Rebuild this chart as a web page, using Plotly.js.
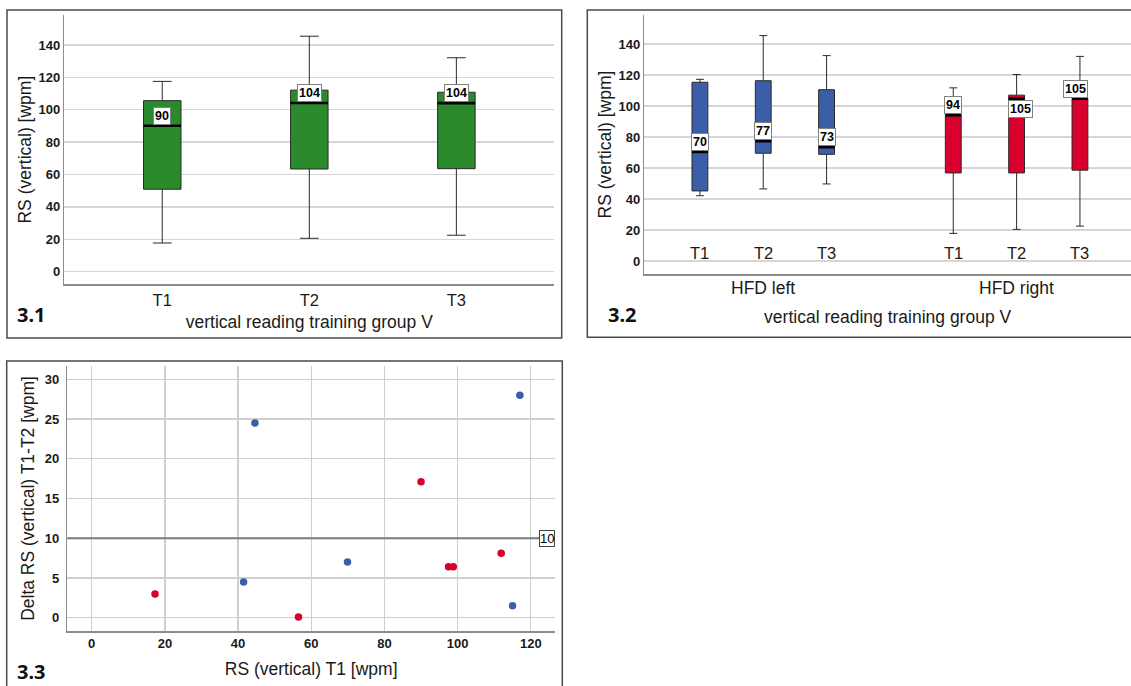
<!DOCTYPE html>
<html>
<head>
<meta charset="utf-8">
<script src="https://cdn.plot.ly/plotly-3.0.1.min.js"></script>
<style>
html, body { margin: 0; padding: 0; background: #ffffff; }
#chart { width: 1131px; height: 686px; }
</style>
</head>
<body>
<div id="chart"></div>
<script>
// ---------- DATA ----------
// Panel 3.1: vertical reading training group V (all participants)
const timeCats   = ['T1', 'T2', 'T3'];
const grpV_low   = [17.7, 20.6, 22.5];
const grpV_q1    = [50.9, 63.4, 63.6];
const grpV_med   = [90.1, 104.2, 104.1];
const grpV_q3    = [105.6, 112.1, 110.8];
const grpV_high  = [117.5, 145.4, 132.1];

// Panel 3.2: split by HFD side
const hfdGroups  = ['HFD left', 'HFD right'];
const left_low   = [42.1, 46.5, 49.7];
const left_q1    = [45.2, 69.5, 68.8];
const left_med   = [70.3, 77.3, 73.4];
const left_q3    = [115.3, 116.3, 110.5];
const left_high  = [117.2, 145.4, 132.5];
const right_low  = [17.8, 20.4, 22.5];
const right_q1   = [56.8, 56.8, 58.6];
const right_med  = [94.0, 104.6, 104.7];
const right_q3   = [94.3, 107.0, 104.9];
const right_high = [111.7, 120.3, 132.0];

// Panel 3.3: RS T1 vs delta T1-T2
const left_T1     = [41.5, 44.6, 69.9, 115.0, 117.0];
const left_delta  = [4.5, 24.5, 7.0, 1.5, 28.0];
const right_T1    = [17.3, 56.5, 90.0, 97.5, 98.8, 111.9];
const right_delta = [3.0, 0.1, 17.1, 6.4, 6.4, 8.1];
const deltaRef    = 10;

// ---------- STYLE ----------
const W = 1131, H = 686;
const GREEN = '#2b8a2b', BLUE = '#3c5ea9', RED = '#d8002c';
const FONT = 'Liberation Sans, Arial, sans-serif';
const TXT = '#1a1a1a';
const px = v => v / W;
const py = v => 1 - v / H;

// label placement for median labels in panel 3.2 (style only)
const rightLabelSide = ['above', 'below', 'above'];
const rightLabelShift = [0, 4, -4];

// categories for panel 3.2 (with empty slot between the groups)
const cats2 = [];
hfdGroups.forEach((g, gi) => {
  timeCats.forEach(t => cats2.push(g + ' ' + t));
  if (gi === 0) cats2.push(' ');
});
const leftCats = timeCats.map(t => hfdGroups[0] + ' ' + t);
const rightCats = timeCats.map(t => hfdGroups[1] + ' ' + t);

function boxTrace(xc, lo, q1, med, q3, hi, fill, w, xa, ya) {
  return {
    type: 'box', x: xc, lowerfence: lo, q1: q1, median: med, q3: q3, upperfence: hi,
    fillcolor: fill, line: { color: '#2a2a2a', width: 1 },
    width: w, whiskerwidth: 0.5, boxpoints: false,
    xaxis: xa, yaxis: ya, hoverinfo: 'skip', showlegend: false
  };
}

const traces = [
  boxTrace(timeCats, grpV_low, grpV_q1, grpV_med, grpV_q3, grpV_high, GREEN, 0.255, 'x', 'y'),
  boxTrace(leftCats, left_low, left_q1, left_med, left_q3, left_high, BLUE, 0.25, 'x2', 'y2'),
  boxTrace(rightCats, right_low, right_q1, right_med, right_q3, right_high, RED, 0.25, 'x2', 'y2'),
  { type: 'scatter', mode: 'markers', x: left_T1, y: left_delta, xaxis: 'x3', yaxis: 'y3',
    marker: { color: BLUE, size: 7.5 }, showlegend: false, hoverinfo: 'skip' },
  { type: 'scatter', mode: 'markers', x: right_T1, y: right_delta, xaxis: 'x3', yaxis: 'y3',
    marker: { color: RED, size: 7.5 }, showlegend: false, hoverinfo: 'skip' }
];

const shapes = [];
const annotations = [];

// median thick lines
function medianLines(cats, allCats, med, w, xr, yr) {
  cats.forEach((c, i) => {
    const idx = allCats.indexOf(c);
    shapes.push({ type: 'line', xref: xr, yref: yr, x0: idx - w / 2, x1: idx + w / 2,
      y0: med[i], y1: med[i], line: { color: '#000', width: 2.6 }, layer: 'above' });
  });
}
medianLines(timeCats, timeCats, grpV_med, 0.255, 'x', 'y');
medianLines(leftCats, cats2, left_med, 0.25, 'x2', 'y2');
medianLines(rightCats, cats2, right_med, 0.25, 'x2', 'y2');

// median labels
function medLabel(xr, yr, x, y, side, shift) {
  annotations.push({
    xref: xr, yref: yr, x: x, y: y, text: String(Math.round(y)), showarrow: false,
    xanchor: 'center', yanchor: side === 'below' ? 'top' : 'bottom',
    yshift: side === 'below' ? -1 : 1, xshift: shift || 0,
    font: { family: FONT, size: 12.5, color: '#000', weight: 700 },
    bgcolor: '#ffffff', bordercolor: '#808080', borderwidth: 1, borderpad: 1
  });
}
timeCats.forEach((c, i) => medLabel('x', 'y', c, grpV_med[i], 'above', 0));
leftCats.forEach((c, i) => medLabel('x2', 'y2', c, left_med[i], 'above', 0));
rightCats.forEach((c, i) => medLabel('x2', 'y2', c, right_med[i], rightLabelSide[i], rightLabelShift[i]));

// in-plot T labels for panel 3.2
leftCats.concat(rightCats).forEach((c, i) => {
  annotations.push({ xref: 'x2', yref: 'y2', x: c, y: 0, yanchor: 'middle', yshift: 7.5,
    text: timeCats[i % 3], showarrow: false, font: { family: FONT, size: 16.5, color: TXT } });
});
// group labels for 3.2
hfdGroups.forEach((g, gi) => {
  annotations.push({ xref: 'x2', yref: 'paper', x: g + ' T2', y: py(288), yanchor: 'middle',
    text: g, showarrow: false, font: { family: FONT, size: 17.5, color: TXT } });
});

// reference line in 3.3
shapes.push({ type: 'line', xref: 'x3 domain', yref: 'y3', x0: 0, x1: 1, y0: deltaRef, y1: deltaRef,
  line: { color: '#7a7a7a', width: 2 }, layer: 'above' });
annotations.push({ xref: 'x3 domain', yref: 'y3', x: 1, y: deltaRef, xanchor: 'right', yanchor: 'middle',
  text: String(deltaRef), showarrow: false, font: { family: FONT, size: 13, color: '#000' },
  bgcolor: '#ffffff', bordercolor: '#444', borderwidth: 1, borderpad: 0 });

// panel frames
const frame = { color: '#4a4a4a', width: 1.5 };
shapes.push({ type: 'rect', xref: 'paper', yref: 'paper', x0: px(7), x1: px(561.7), y0: py(338), y1: py(10), line: frame });
shapes.push({ type: 'rect', xref: 'paper', yref: 'paper', x0: px(587.3), x1: px(1140), y0: py(337.3), y1: py(10), line: frame });
shapes.push({ type: 'rect', xref: 'paper', yref: 'paper', x0: px(6.7), x1: px(562.3), y0: py(700), y1: py(361), line: frame });

// panel numbers
[['3.1', 31, 315], ['3.2', 622, 315], ['3.3', 31.5, 671.5]].forEach(([t, x, y]) => {
  annotations.push({ xref: 'paper', yref: 'paper', x: px(x), y: py(y), xanchor: 'center', yanchor: 'middle',
    text: t, showarrow: false, font: { family: 'Noto Sans, sans-serif', size: 20, color: '#111', weight: 700 } });
});

const tickFontY = { family: FONT, size: 13, color: TXT, weight: 700 };
const titleFont = { family: FONT, size: 17.5, color: TXT };
const ax = { showline: true, linecolor: '#8c8c8c', linewidth: 1.5, zeroline: false, ticks: '',
  fixedrange: true, gridcolor: '#d6d6d6', gridwidth: 1.3 };

const layout = {
  width: W, height: H, margin: { l: 0, r: 0, t: 0, b: 0 },
  paper_bgcolor: '#ffffff', plot_bgcolor: '#ffffff', showlegend: false,
  boxmode: 'overlay',
  xaxis: Object.assign({}, ax, {
    domain: [px(64.3), px(554.3)], anchor: 'y', type: 'category', categoryorder: 'array',
    categoryarray: timeCats, range: [-0.666, 2.666], showgrid: false,
    tickfont: { family: FONT, size: 16.5, color: TXT },
    title: { text: 'vertical reading training group V', font: titleFont, standoff: 8 }
  }),
  yaxis: Object.assign({}, ax, {
    domain: [py(284.3), py(15)], anchor: 'x', range: [-7.8, 158.5], dtick: 20, tick0: 0,
    showgrid: true, tickfont: tickFontY,
    title: { text: 'RS (vertical) [wpm]', font: titleFont, standoff: 2 }
  }),
  xaxis2: Object.assign({}, ax, {
    domain: [px(644.3), 1], anchor: 'y2', type: 'category', categoryorder: 'array',
    categoryarray: cats2, range: [-0.878, 6.806], showgrid: false, showticklabels: false,
    title: { text: 'vertical reading training group V', font: titleFont, standoff: 36 }
  }),
  yaxis2: Object.assign({}, ax, {
    domain: [py(274), py(15)], anchor: 'x2', range: [-8.4, 158.7], dtick: 20, tick0: 0,
    showgrid: true, tickfont: tickFontY,
    title: { text: 'RS (vertical) [wpm]', font: titleFont, standoff: 2 }
  }),
  xaxis3: Object.assign({}, ax, {
    domain: [px(67.3), px(555)], anchor: 'y3', range: [-6.67, 126.6], dtick: 20, tick0: 0,
    showgrid: true, gridcolor: '#cfcfcf', tickfont: tickFontY,
    title: { text: 'RS (vertical) T1 [wpm]', font: titleFont, standoff: 12 }
  }),
  yaxis3: Object.assign({}, ax, {
    domain: [py(631), py(366)], anchor: 'x3', range: [-1.67, 31.67], dtick: 5, tick0: 0,
    showgrid: true, gridcolor: '#cfcfcf', tickfont: tickFontY, ticklabelstandoff: 4,
    title: { text: 'Delta RS (vertical) T1-T2 [wpm]', font: titleFont, standoff: 5 }
  }),
  shapes: shapes,
  annotations: annotations
};

Plotly.newPlot('chart', traces, layout, { staticPlot: true, displayModeBar: false });
</script>
</body>
</html>
